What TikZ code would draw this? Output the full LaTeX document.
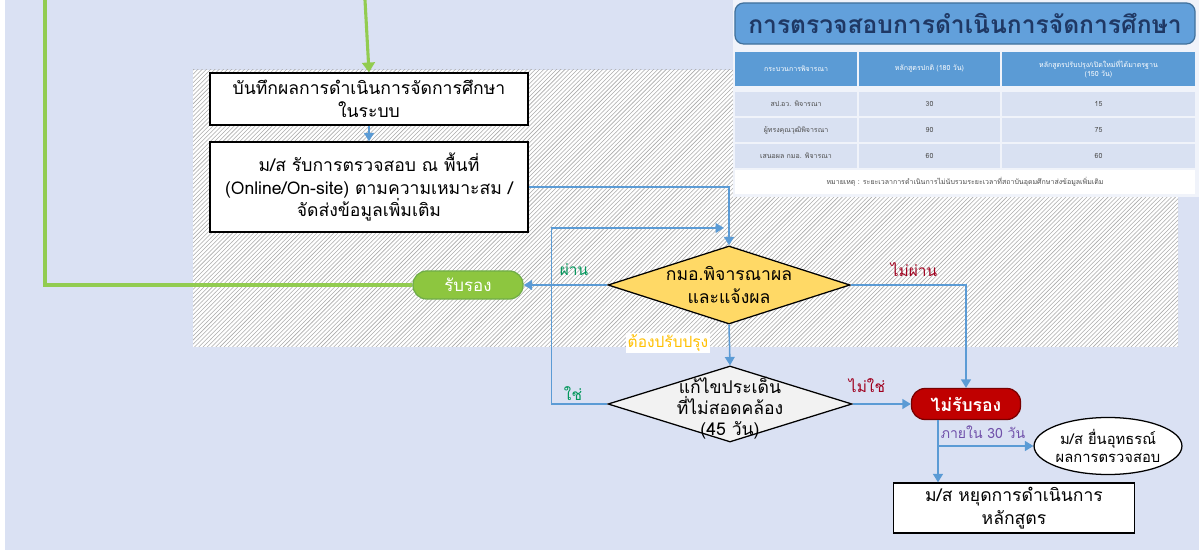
\documentclass[tikz,border=0pt]{standalone}
\usepackage{fontspec}
\setmainfont[Script=Thai]{Loma}
\usetikzlibrary{shapes.geometric,patterns,arrows.meta}

\definecolor{bgblue}{RGB}{218,225,243}
\definecolor{panel}{RGB}{240,243,250}
\definecolor{lnblue}{RGB}{91,155,213}
\definecolor{gline}{RGB}{146,204,80}
\definecolor{rubfill}{RGB}{141,198,63}
\definecolor{rubdraw}{RGB}{112,173,71}
\definecolor{rejfill}{RGB}{192,0,0}
\definecolor{rejdraw}{RGB}{120,0,0}
\definecolor{chkfill}{RGB}{255,217,102}
\definecolor{fixfill}{RGB}{242,242,242}
\definecolor{passg}{RGB}{0,150,90}
\definecolor{failr}{RGB}{160,0,30}
\definecolor{yelt}{RGB}{255,192,0}
\definecolor{purp}{RGB}{112,80,170}
\definecolor{ttlfill}{RGB}{98,160,219}
\definecolor{ttldraw}{RGB}{65,113,156}
\definecolor{ttltext}{RGB}{31,56,100}
\definecolor{rowfill}{RGB}{217,225,242}

\tikzset{
  box/.style={draw=black, line width=0.9pt, fill=white, align=center,
    font=\fontsize{12.5}{16}\selectfont, inner sep=0pt},
  dia/.style={diamond, draw=black, line width=0.9pt, inner sep=0pt},
  term/.style={rectangle, rounded corners=0.34cm, line width=0.9pt,
    text=white, font=\fontsize{12}{14}\selectfont, inner sep=0pt},
  lbl/.style={font=\fontsize{11}{13}\selectfont, inner sep=1pt},
  arr/.style={draw=lnblue, line width=1.1pt, -{Triangle[width=7pt,length=6pt]}},
  garr/.style={draw=gline, line width=2.2pt, -{Triangle[width=9pt,length=7pt]}},
  hcell/.style={fill=lnblue, text=white, align=center, inner sep=0pt,
    font=\fontsize{5}{6}\selectfont, minimum height=0.85cm},
  rcell/.style={fill=rowfill, text=black!70, align=center, inner sep=0pt,
    font=\fontsize{5}{6}\selectfont, minimum height=0.6cm},
}

\begin{document}
\begin{tikzpicture}[x=0.025cm, y=-0.025cm]

% Background
\useasboundingbox (0,0) rectangle (1199,550);
\fill[white] (0,0) rectangle (1199,550);
\fill[bgblue] (5,0) rectangle (1199,550);
\fill[white] (193,70) rectangle (1178,347);
\fill[pattern=north east lines, pattern color=gray!65] (193,70) rectangle (1178,347);
\fill[panel] (733,0) rectangle (1199,197);

% Title
\node[draw=ttldraw, fill=ttlfill, line width=0.9pt, rounded corners=0.22cm,
  minimum width=11.5cm, minimum height=1.025cm, text=ttltext,
  font=\fontsize{17.5}{20}\selectfont\bfseries] (ttl) at (965,23.5) {การตรวจสอบการดำเนินการจัดการศึกษา};

% Table
\node[hcell, minimum width=3.05cm] (h1) at (796,69) {กระบวนการพิจารณา};
\node[hcell, minimum width=3.525cm] (h2) at (929.5,69) {หลักสูตรปกติ (180 วัน)};
\node[hcell, minimum width=4.825cm] (h3) at (1098.5,69) {หลักสูตรปรับปรุง/เปิดใหม่ที่ได้มาตรฐาน\\(150 วัน)};
\node[rcell, minimum width=3.05cm] (a1) at (796,104) {สป.อว. พิจารณา};
\node[rcell, minimum width=3.525cm] (a2) at (929.5,104) {30};
\node[rcell, minimum width=4.825cm] (a3) at (1098.5,104) {15};
\node[rcell, minimum width=3.05cm] (b1) at (796,130) {ผู้ทรงคุณวุฒิพิจารณา};
\node[rcell, minimum width=3.525cm] (b2) at (929.5,130) {90};
\node[rcell, minimum width=4.825cm] (b3) at (1098.5,130) {75};
\node[rcell, minimum width=3.05cm] (c1) at (796,156) {เสนอผล กมอ. พิจารณา};
\node[rcell, minimum width=3.525cm] (c2) at (929.5,156) {60};
\node[rcell, minimum width=4.825cm] (c3) at (1098.5,156) {60};
\node[rcell, fill=white, minimum width=11.5cm] (note) at (965,182) {หมายเหตุ : ระยะเวลาการดำเนินการไม่นับรวมระยะเวลาที่สถาบันอุดมศึกษาส่งข้อมูลเพิ่มเติม};

% Flow
\coordinate (gtop) at (365,0);
\coordinate (gleft) at (45,0);
\node[box, minimum width=7.95cm, minimum height=1.3cm] (rec) at (369,99) {บันทึกผลการดำเนินการจัดการศึกษา\\ในระบบ};
\node[box, minimum width=7.95cm, minimum height=2.25cm] (chk) at (369,187) {ม/ส รับการตรวจสอบ ณ พื้นที่\\(Online/On-site) ตามความเหมาะสม /\\จัดส่งข้อมูลเพิ่มเติม};
\node[dia, fill=chkfill, minimum width=6.05cm, minimum height=1.95cm,
  label={[align=center, font=\fontsize{12.5}{16}\selectfont]center:กมอ.พิจารณาผล\\และแจ้งผล}] (d1) at (729,285) {};
\node[dia, fill=fixfill, minimum width=6.1cm, minimum height=1.9cm,
  label={[align=center, font=\fontsize{12.5}{15}\selectfont, yshift=-3pt]center:แก้ไขประเด็น\\ที่ไม่สอดคล้อง\\(45 วัน)}] (d2) at (730,404) {};
\coordinate (mrg) at (724,228);
\node[term, draw=rubdraw, fill=rubfill, minimum width=2.75cm, minimum height=0.7cm] (rub) at (468,285) {รับรอง};
\node[term, draw=rejdraw, fill=rejfill, minimum width=2.725cm, minimum height=0.775cm,
  font=\fontsize{12.5}{14}\selectfont\bfseries] (rej) at (966,404) {ไม่รับรอง};
\node[ellipse, draw=black, line width=0.9pt, fill=white, align=center, inner sep=0pt,
  minimum width=3.05cm, minimum height=1.425cm, font=\fontsize{10.5}{13}\selectfont] (app) at (1108,446) {ม/ส ยื่นอุทธรณ์\\ผลการตรวจสอบ};
\node[box, minimum width=6.025cm, minimum height=1.25cm] (stop) at (1014,508) {ม/ส หยุดการดำเนินการ\\หลักสูตร};

% Connectors
\draw[garr] (gtop) -- (rec.north);
\draw[draw=gline, line width=2.2pt] (rub.west) -| (gleft);
\draw[arr] (rec.south) -- (chk.north);
\draw[arr] (chk.east) -| (d1.north);
\draw[arr] (d1.west) -- (rub.east);
\draw[arr] (d1.east) -| (rej.north);
\draw[arr] (d1.south) -- (d2.north);
\draw[arr] (d2.west) -- ++(-56,0) |- (mrg);
\draw[arr] (d2.east) -- (rej.west);
\draw[arr] ([xshift=-0.7cm]rej.south) -- ([xshift=-0.7cm]rej.south |- stop.north);
\draw[arr] ([xshift=-0.7cm]rej.south) |- (app.west);

% Labels
\node[lbl, text=passg] (lpass) at (574,270) {ผ่าน};
\node[lbl, text=failr] (lfail) at (914,270) {ไม่ผ่าน};
\node[lbl, text=yelt, fill=white] (lfix) at (668,343) {ต้องปรับปรุง};
\node[lbl, text=passg] (lyes) at (573,394) {ใช่};
\node[lbl, text=failr] (lno) at (867,386) {ไม่ใช่};
\node[lbl, text=purp, font=\fontsize{10}{12}\selectfont] (lday) at (983,432) {ภายใน 30 วัน};

\end{tikzpicture}
\end{document}
